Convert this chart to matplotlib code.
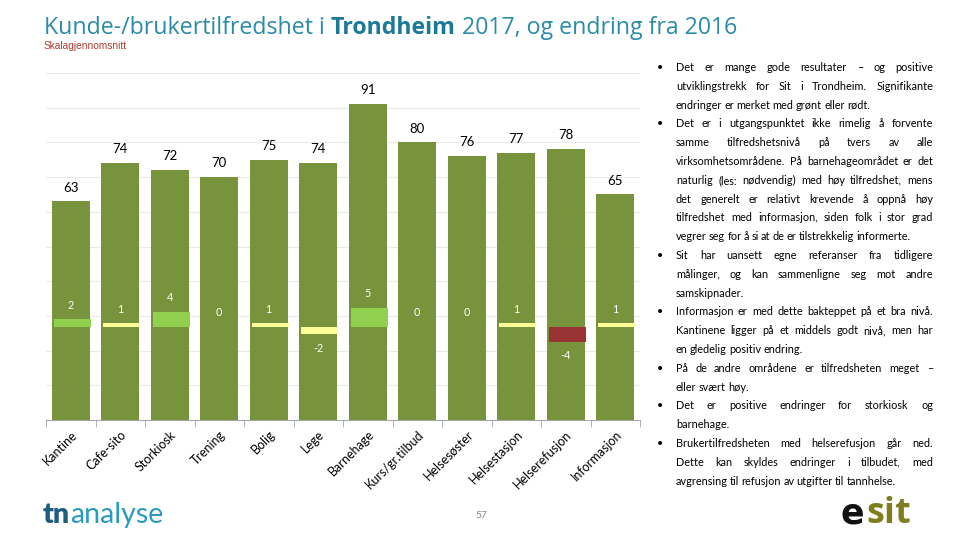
import matplotlib
matplotlib.use("Agg")
import matplotlib.pyplot as plt
import numpy as np

categories = ["Kantine", "Cafe-sito", "Storkiosk", "Trening", "Bolig", "Lege", "Barnehage",
              "Kurs/gr.tilbud", "Helsesøster", "Helsestasjon", "Helserefusjon", "Informasjon"]
scores_2017 = [63, 74, 72, 70, 75, 74, 91, 80, 76, 77, 78, 65]
change_2016 = [2, 1, 4, 0, 1, -2, 5, 0, 0, 1, -4, 1]
significant = [True, False, True, False, False, False, True, False, False, False, True, False]

paragraphs = [
    ["Det er mange gode resultater – og positive",
     "utviklingstrekk for Sit i Trondheim. Signifikante",
     "endringer er merket med grønt eller rødt."],
    ["Det er i utgangspunktet ikke rimelig å forvente",
     "samme tilfredshetsnivå på tvers av alle",
     "virksomhetsområdene. På barnehageområdet er det",
     "naturlig (les: nødvendig) med høy tilfredshet, mens",
     "det generelt er relativt krevende å oppnå høy",
     "tilfredshet med informasjon, siden folk i stor grad",
     "vegrer seg for å si at de er tilstrekkelig informerte."],
    ["Sit har uansett egne referanser fra tidligere",
     "målinger, og kan sammenligne seg mot andre",
     "samskipnader."],
    ["Informasjon er med dette bakteppet på et bra nivå.",
     "Kantinene ligger på et middels godt nivå, men har",
     "en gledelig positiv endring."],
    ["På de andre områdene er tilfredsheten meget –",
     "eller svært høy."],
    ["Det er positive endringer for storkiosk og",
     "barnehage."],
    ["Brukertilfredsheten med helserefusjon går ned.",
     "Dette kan skyldes endringer i tilbudet, med",
     "avgrensing til refusjon av utgifter til tannhelse."],
]

W, H = 960, 540
fig = plt.figure(figsize=(9.6, 5.4), dpi=100)
fig.patch.set_facecolor("white")
renderer = fig.canvas.get_renderer()

def fx(px):
    return px / W

def fy(py):
    return 1 - py / H

def text_width(s, **kw):
    t = fig.text(0, 0, s, **kw)
    bb = t.get_window_extent(renderer=renderer)
    t.remove()
    return bb.width

# --- main axes ---
ax = fig.add_axes([fx(46), fy(420), fx(640) - fx(46), (420 - 73) / H])
x = np.arange(len(categories))
bar_color = "#77933C"
ax.bar(x, scores_2017, width=0.77, color=bar_color, zorder=2)
ax.set_ylim(0, 100)
ax.set_xlim(-0.5, len(categories) - 0.5)
ax.set_yticks(np.arange(10, 101, 10))
ax.yaxis.grid(True, color="#EAEAEA", linewidth=0.8, zorder=0)
for s in ["left", "right", "top"]:
    ax.spines[s].set_visible(False)
ax.spines["bottom"].set_color("#A6A6A6")
ax.set_xticks(x)
ax.set_xticklabels(categories, rotation=45, ha="right", rotation_mode="anchor",
                   fontsize=9, family="Lato", color="#000000")
ax.tick_params(axis="x", length=0, pad=6)
ax.set_xticks(np.arange(-0.5, len(categories), 1), minor=True)
ax.tick_params(axis="x", which="minor", length=5, color="#A6A6A6", direction="out")

for xi, v in zip(x, scores_2017):
    ax.annotate(f"{v}", (xi, v), xytext=(0, 10), textcoords="offset points",
                ha="center", va="center", fontsize=9.5, family="Lato", color="#000000")

# --- change axes ---
ax2 = ax.twinx()
ax2.set_ylim(-24.5, 66.8)
ax2.axis("off")
ax.tick_params(axis="y", which="both", left=False, right=False, labelleft=False, labelright=False)
colors = []
for c, sgn in zip(change_2016, significant):
    if sgn and c > 0:
        colors.append("#92D050")
    elif sgn and c < 0:
        colors.append("#993333")
    else:
        colors.append("#FFFF99")
ax2.bar(x + 0.03, change_2016, width=0.74, color=colors, linewidth=0, zorder=3)
for xi, c in zip(x, change_2016):
    if c >= 0:
        ax2.annotate(f"{c}", (xi, c), xytext=(0, 10), textcoords="offset points",
                     ha="center", va="center", fontsize=7.8, family="Lato", color="white")
    else:
        ax2.annotate(f"{c}", (xi, c), xytext=(0, -10), textcoords="offset points",
                     ha="center", va="center", fontsize=7.8, family="Lato", color="white")

# --- title ---
title_parts = [("Kunde-/brukertilfredshet i ", "normal", "#2A8CA8"),
               ("Trondheim", "bold", "#1B7A95"),
               (" 2017, og endring fra 2016", "normal", "#2A8CA8")]
cx = 44
for s, wgt, col in title_parts:
    kw = dict(fontsize=16.7, family="Open Sans", fontweight=wgt)
    fig.text(fx(cx), fy(34), s, color=col, va="baseline", ha="left", **kw)
    cx += text_width(s, **kw)
fig.text(fx(44), fy(49), "Skalagjennomsnitt", fontsize=7.3, family="Liberation Sans",
         color="#B03A2E", va="baseline", ha="left")

# --- justified bullet text ---
fs = 7.8
fam = "Lato"
left, right = 676, 933
line_h = 18.8
yb = 71
sp = text_width("a a", fontsize=fs, family=fam) - 2 * text_width("a", fontsize=fs, family=fam)
for para in paragraphs:
    fig.text(fx(657), fy(yb), "•", fontsize=fs, family=fam, va="baseline", ha="left")
    for li, line in enumerate(para):
        words = line.split(" ")
        widths = [text_width(w, fontsize=fs, family=fam) for w in words]
        last = li == len(para) - 1
        if last or len(words) == 1:
            gap = sp * 0.8
        else:
            gap = max((right - left - sum(widths)) / (len(words) - 1), sp * 0.5)
        px = left
        for w, wd in zip(words, widths):
            fig.text(fx(px), fy(yb), w, fontsize=fs, family=fam, va="baseline", ha="left")
            px += wd + gap
        yb += line_h

# --- footer ---
kw = dict(fontsize=20.5, family="Lato")
fig.text(fx(43), fy(523), "tn", color="#1D5F7C", fontweight="heavy", va="baseline", **kw)
tw = text_width("tn", fontweight="heavy", **kw)
fig.text(fx(43 + tw), fy(523), "analyse", color="#2A9AC0", fontweight="normal", va="baseline", **kw)
fig.text(fx(481), fy(518), "57", fontsize=7.5, family="Lato", color="#8C8C8C", ha="center", va="baseline")
fig.text(fx(841), fy(523), "e", fontsize=25, family="DejaVu Sans", fontweight="bold",
         color="#111111", va="baseline")
fig.text(fx(866), fy(523), "sit", fontsize=26, family="Open Sans", fontweight="bold",
         color="#7E7E1E", va="baseline")

fig.savefig("out.png", dpi=100)
